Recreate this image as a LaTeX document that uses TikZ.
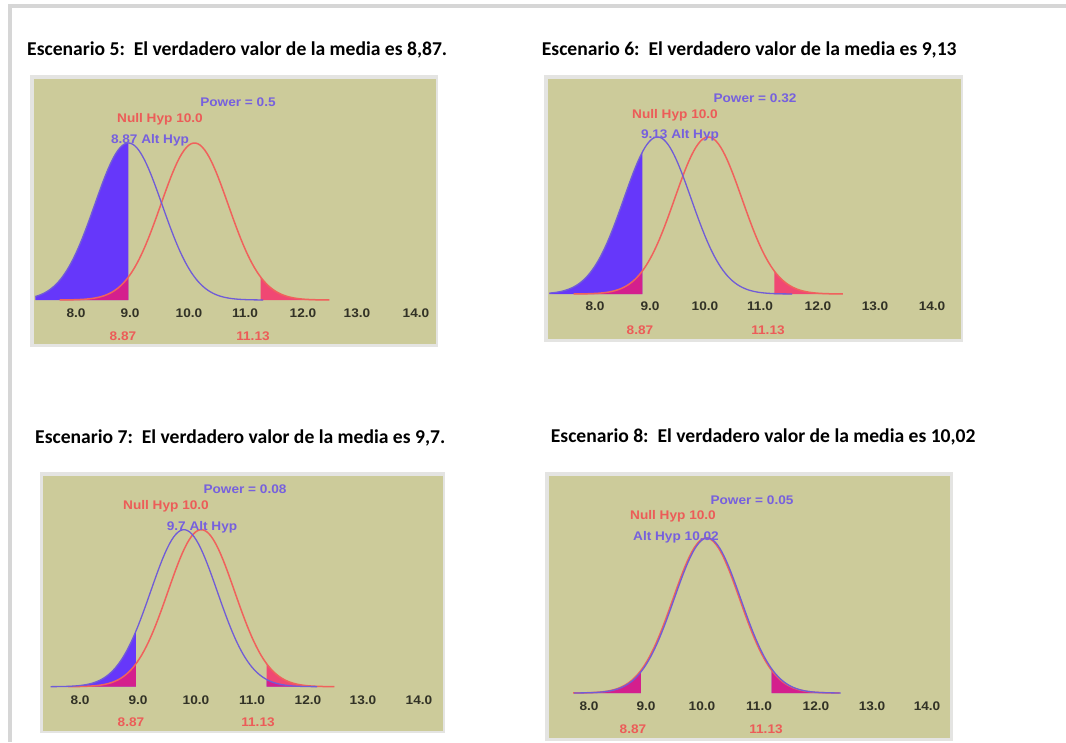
\documentclass[tikz,border=0pt]{standalone}
\usepackage{fontspec}
\newfontfamily\titlefont{Carlito}
\newfontfamily\appfont[FakeStretch=1.09]{Liberation Sans}
\definecolor{panelbg}{RGB}{204,203,154}
\definecolor{boxborder}{RGB}{228,228,226}
\definecolor{framegray}{RGB}{214,214,214}
\definecolor{altfillc}{RGB}{102,55,250}
\definecolor{nullfillc}{RGB}{255,22,100}
\definecolor{altline}{RGB}{112,92,215}
\definecolor{nullline}{RGB}{240,98,92}
\definecolor{alttext}{RGB}{118,96,222}
\definecolor{nulltext}{RGB}{236,92,88}
\definecolor{ticktext}{RGB}{50,50,38}
\tikzset{
  ttl/.style={anchor=base west, inner sep=0pt, font=\titlefont\bfseries\fontsize{19.6}{22}\selectfont},
  apptxt/.style={anchor=base, inner sep=0pt, font=\appfont\bfseries\fontsize{12.5}{15}\selectfont},
  powtxt/.style={apptxt, text=alttext},
  nulltxt/.style={apptxt, text=nulltext},
  alttxt/.style={apptxt, text=alttext},
  ticktxt/.style={apptxt, text=ticktext},
  crittxt/.style={apptxt, text=nulltext},
  altfill/.style={fill=altfillc},
  nullfill/.style={fill=nullfillc, fill opacity=0.72},
  altcurve/.style={draw=altline, line width=1.3pt},
  nullcurve/.style={draw=nullline, line width=1.5pt},
}
\def\sig{0.5765}
% #1 x of value 10 (px), #2 baseline y (px), #3 px per unit, #4 peak height (px), #5 alt mean - 10, #6 left limit (relative)
\newcommand{\powcurves}[6]{%
  \begin{scope}[shift={(#1pt,-#2pt)}, x=#3pt, y=#4pt]
    \pgfmathsetmacro\aL{max(#5-4*\sig,#6)}
    \pgfmathsetmacro\aR{#5+4*\sig}
    \pgfmathsetmacro\nL{max(-4*\sig,#6)}
    \pgfmathsetmacro\nR{4*\sig}
    \fill[altfill] (\aL,0) -- plot[domain=\aL:-1.13,samples=70] (\x,{exp(-((\x-(#5))*(\x-(#5)))/(2*\sig*\sig))}) -- (-1.13,0) -- cycle;
    \fill[altfill] (1.13,0) -- plot[domain=1.13:\aR,samples=40] (\x,{exp(-((\x-(#5))*(\x-(#5)))/(2*\sig*\sig))}) -- (\aR,0) -- cycle;
    \fill[nullfill] (\nL,0) -- plot[domain=\nL:-1.13,samples=40] (\x,{exp(-((\x)*(\x))/(2*\sig*\sig))}) -- (-1.13,0) -- cycle;
    \fill[nullfill] (1.13,0) -- plot[domain=1.13:\nR,samples=40] (\x,{exp(-((\x)*(\x))/(2*\sig*\sig))}) -- (\nR,0) -- cycle;
    \draw[nullcurve] plot[domain=\nL:\nR,samples=120] (\x,{exp(-((\x)*(\x))/(2*\sig*\sig))});
    \draw[altcurve] plot[domain=\aL:\aR,samples=120] (\x,{exp(-((\x-(#5))*(\x-(#5)))/(2*\sig*\sig))});
  \end{scope}}
\begin{document}
\begin{tikzpicture}[x=1pt,y=-1pt]
\useasboundingbox (0,0) rectangle (1066,742);
\fill[white] (0,0) rectangle (1066,742);
\fill[framegray] (8,4) rectangle (1066,8);
\fill[framegray] (8,4) rectangle (12,742);

% ---------- Panel 1 ----------
\node[ttl] (title1) at (27,55) {Escenario 5:\ \ El verdadero valor de la media es 8,87.};
\fill[boxborder] (30,75) rectangle (438,347);
\fill[panelbg] (34,79) rectangle (436,344);
\powcurves{194.5}{300}{58.5}{157}{-1.13}{-2.72}
\node[powtxt] (pow1) at (238,106) {Power = 0.5};
\node[nulltxt] (null1) at (160,122.5) {Null Hyp 10.0};
\node[alttxt] (alt1) at (150,143) {8.87 Alt Hyp};
\foreach \xx/\lab [count=\i] in {76/8.0,130/9.0,189/10.0,245/11.0,303/12.0,357/13.0,416/14.0}
  \node[ticktxt] (tk1\i) at (\xx,317) {\lab};
\node[crittxt] (lo1) at (123,340) {8.87};
\node[crittxt] (hi1) at (253,340) {11.13};

% ---------- Panel 2 ----------
\node[ttl] (title2) at (541.7,55) {Escenario 6:\ \ El verdadero valor de la media es 9,13};
\fill[boxborder] (544,75) rectangle (963,342);
\fill[panelbg] (548,79) rectangle (961,339);
\powcurves{708.3}{294}{58.4}{157}{-0.87}{-2.72}
\node[powtxt] (pow2) at (755,102.5) {Power = 0.32};
\node[nulltxt] (null2) at (675,118) {Null Hyp 10.0};
\node[alttxt] (alt2) at (680,138) {9.13 Alt Hyp};
\foreach \xx/\lab [count=\i] in {595/8.0,650/9.0,705/10.0,760/11.0,818/12.0,875/13.0,932/14.0}
  \node[ticktxt] (tk2\i) at (\xx,310) {\lab};
\node[crittxt] (lo2) at (640,334) {8.87};
\node[crittxt] (hi2) at (768,334) {11.13};

% ---------- Panel 3 ----------
\node[ttl] (title3) at (35,443.3) {Escenario 7:\ \ El verdadero valor de la media es 9,7.};
\fill[boxborder] (40,472) rectangle (445,733);
\fill[panelbg] (43,476) rectangle (443,731);
\powcurves{201.3}{686.7}{57.8}{157}{-0.3}{-2.74}
\node[powtxt] (pow3) at (245,493.3) {Power = 0.08};
\node[nulltxt] (null3) at (166,509.3) {Null Hyp 10.0};
\node[alttxt] (alt3) at (202,530) {9.7 Alt Hyp};
\foreach \xx/\lab [count=\i] in {80/8.0,138/9.0,196/10.0,252/11.0,308/12.0,363/13.0,419/14.0}
  \node[ticktxt] (tk3\i) at (\xx,704) {\lab};
\node[crittxt] (lo3) at (131,726.7) {8.87};
\node[crittxt] (hi3) at (258,726.7) {11.13};

% ---------- Panel 4 ----------
\node[ttl] (title4) at (550.7,442.7) {Escenario 8:\ \ El verdadero valor de la media es 10,02};
\fill[boxborder] (545,472) rectangle (953,741);
\fill[panelbg] (549,476) rectangle (950,738);
\powcurves{706.3}{693}{57.8}{155}{0.02}{-2.72}
\node[powtxt] (pow4) at (752,504) {Power = 0.05};
\node[nulltxt] (null4) at (673,519.3) {Null Hyp 10.0};
\node[alttxt] (alt4) at (676,540) {Alt Hyp 10.02};
\foreach \xx/\lab [count=\i] in {589/8.0,646/9.0,702/10.0,759/11.0,816/12.0,872/13.0,927/14.0}
  \node[ticktxt] (tk4\i) at (\xx,710) {\lab};
\node[crittxt] (lo4) at (633,733.3) {8.87};
\node[crittxt] (hi4) at (766,733.3) {11.13};
\end{tikzpicture}
\end{document}
